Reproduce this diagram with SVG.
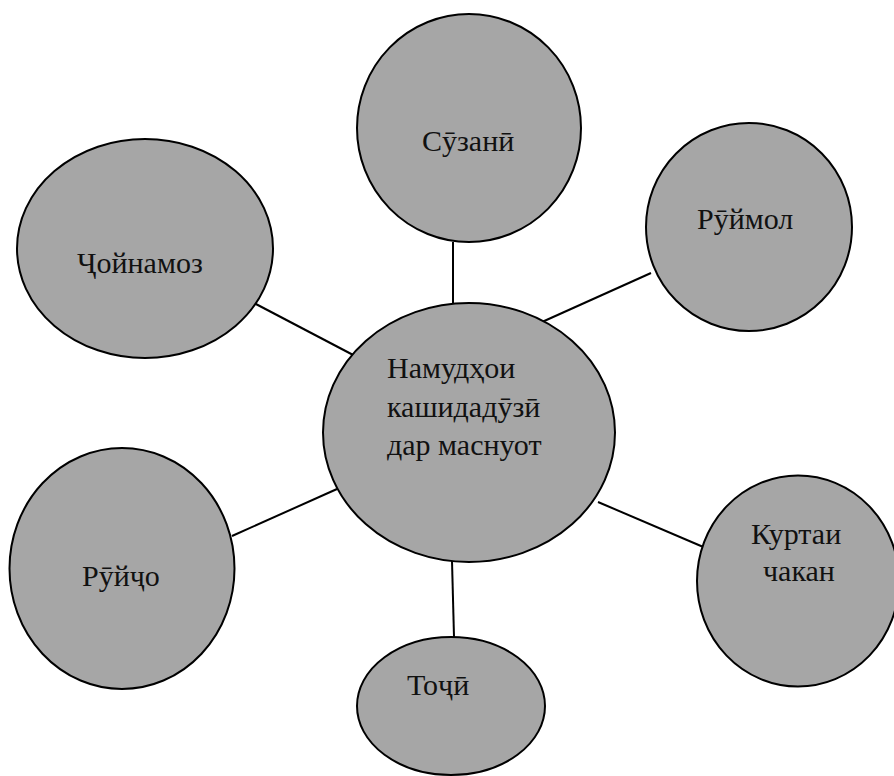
<svg xmlns="http://www.w3.org/2000/svg" width="894" height="776" viewBox="0 0 894 776">
<style>
.n{fill:#a6a6a6;stroke:#000;stroke-width:2}
.t{font-family:'Liberation Serif','DejaVu Serif',serif;font-size:30px;fill:#111}
.c line{stroke:#000;stroke-width:2}
</style>
<rect width="894" height="776" fill="#fff"/>
<g class="c" id="connectors">
<line x1="453" y1="242" x2="453" y2="304"/>
<line x1="542" y1="322" x2="651" y2="273"/>
<line x1="254" y1="303" x2="357" y2="357"/>
<line x1="232" y1="536" x2="337" y2="489"/>
<line x1="598" y1="502" x2="708" y2="549"/>
<line x1="452" y1="561" x2="454" y2="637"/>
</g>
<g id="suzani"><ellipse class="n" cx="469" cy="128" rx="112" ry="114"/><text class="t" x="422" y="151">Сӯзанӣ</text></g>
<g id="ruymol"><ellipse class="n" cx="749" cy="227" rx="103" ry="104"/><text class="t" x="697" y="229">Рӯймол</text></g>
<g id="joynamoz"><ellipse class="n" cx="145" cy="248.5" rx="128" ry="109.5"/><text class="t" x="77" y="273">Ҷойнамоз</text></g>
<g id="center"><ellipse class="n" cx="469" cy="432.5" rx="146" ry="129.5"/><text class="t" x="387" y="378">Намудҳои</text><text class="t" x="387" y="417">кашидадӯзӣ</text><text class="t" x="387" y="455">дар маснуот</text></g>
<g id="ruyjo"><ellipse class="n" cx="122" cy="568.5" rx="112.5" ry="120.5"/><text class="t" x="82" y="586">Рӯйҷо</text></g>
<g id="kurtai"><ellipse class="n" cx="798" cy="581" rx="101" ry="105.5"/><text class="t" x="751" y="544">Куртаи</text><text class="t" x="763" y="581">чакан</text></g>
<g id="toji"><ellipse class="n" cx="451" cy="706" rx="94" ry="69"/><text class="t" x="407" y="695">Тоҷӣ</text></g>
</svg>
